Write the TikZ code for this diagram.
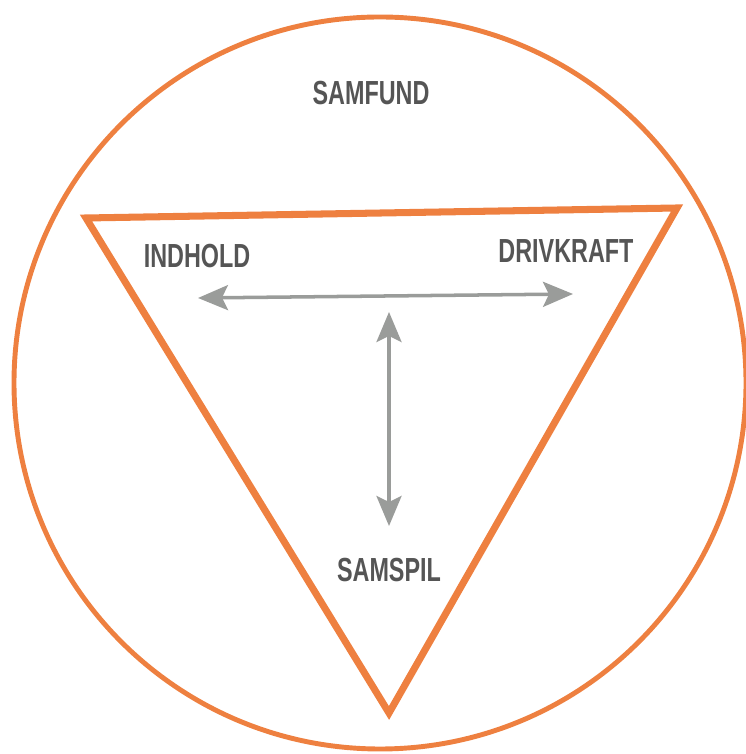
\documentclass[tikz,border=0pt]{standalone}
\usepackage{fontspec}
\usepackage{xcolor}
\usepackage{tikz}
\usetikzlibrary{arrows.meta}
\newfontfamily\labelfont{Liberation Sans}
\definecolor{ringorange}{HTML}{EE8040}
\definecolor{labelgrey}{HTML}{555555}
\definecolor{arrowgrey}{HTML}{9A9C9A}

\begin{document}
\begin{tikzpicture}[
    label/.style={text=labelgrey, font=\labelfont\bfseries\fontsize{19}{21}\selectfont, xscale=0.7, transform shape, inner sep=0pt},
    twoway/.style={draw=arrowgrey, line width=2pt, {Stealth[length=6mm, width=5mm, inset=1.2mm]}-{Stealth[length=6mm, width=5mm, inset=1.2mm]}}
  ]
      \useasboundingbox (0,0) rectangle (14.9,15.08);
      \draw[ringorange, line width=2.8pt] (7.6,7.42) circle (7.32);
      \draw[ringorange, line width=4pt, line join=miter] (1.72,10.72) -- (13.54,10.92) -- (7.78,0.82) -- cycle;
      \node[label] (samfund) at (7.42,13.22) {SAMFUND};
      \node[label] (indhold) at (3.94,9.96) {INDHOLD};
      \node[label] (drivkraft) at (11.32,10.06) {DRIVKRAFT};
      \node[label] (samspil) at (7.78,3.68) {SAMSPIL};
      \coordinate (west) at (3.96,9.12);
      \coordinate (east) at (11.46,9.2);
      \coordinate (upper) at (7.78,8.84);
      \coordinate (lower) at (7.78,4.56);
      \draw[twoway] (west) -- (east);
      \draw[twoway] (upper) -- (lower);
    \end{tikzpicture}
\end{document}
